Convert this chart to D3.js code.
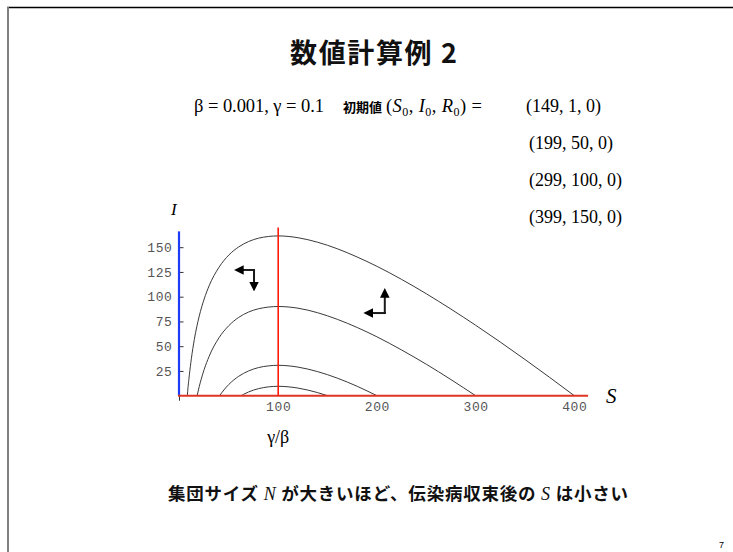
<!DOCTYPE html>
<html><head><meta charset="utf-8">
<script src="https://cdn.jsdelivr.net/npm/d3@7"></script>
<style>
html,body{margin:0;padding:0;background:#fff;}
svg{display:block;}
.jp{font-family:"Noto Sans CJK JP","Noto Sans",sans-serif;font-weight:bold;}
.serif{font-family:"Liberation Serif","DejaVu Serif",serif;}
.tick text{font-family:"Liberation Mono","DejaVu Sans Mono",monospace;fill:#555;}
</style></head>
<body>
<svg id="c" width="733" height="552"></svg>
<script>
// ---- data ----
const titleText = "数値計算例 2";
const initialValues = ["(149, 1, 0)", "(199, 50, 0)", "(299, 100, 0)", "(399, 150, 0)"];
const xTicks = [100, 200, 300, 400];
const yTicks = [25, 50, 75, 100, 125, 150];
const gammaOverBeta = 100;
// trajectories (S, I), one per population size
const curveN150 = [[62.6,0],[65,1.4],[70,3.8],[80,7.1],[90,8.9],[100,9.5],[110,9.0],[120,7.7],[130,5.7],[140,3.1],[150,0]];
const curveN200 = [[40.6,0],[45,5.8],[50,11.4],[60,19.6],[70,25.0],[80,28.4],[90,30.1],[100,30.7],[110,30.2],[120,28.9],[140,24.3],[160,17.7],[180,9.5],[200,0]];
const curveN300 = [[17.85,0],[20,9.2],[22,16.7],[25,26.5],[30,39.7],[40,58.5],[50,70.8],[60,79.1],[70,84.5],[80,87.8],[100,90.1],[120,88.4],[140,83.8],[160,77.1],[180,68.9],[200,59.5],[225,46.2],[250,31.8],[275,16.3],[300,0]];
const curveN400 = [[7.94,0],[8,0.8],[10,21.1],[12,37.3],[15,56.7],[20,80.4],[25,97.7],[30,111.0],[40,129.7],[50,142.1],[60,150.3],[70,155.7],[80,159.1],[100,161.4],[120,159.6],[140,155.0],[160,148.4],[180,140.1],[200,130.7],[225,117.5],[250,103.0],[275,87.5],[300,71.2],[325,54.2],[350,36.6],[375,18.5],[400,0]];
const curves = [curveN150, curveN200, curveN300, curveN400];
// direction arrows: [corner, horizontal tip, vertical tip] in (S, I)
const arrowA = [[75.5,127],[56,127],[75.5,106]];
const arrowB = [[208,83.5],[187,83.5],[208,108]];

const svg = d3.select("#c");

// slide frame
svg.append("line").attr("x1",7).attr("x2",733).attr("y1",7.5).attr("y2",7.5).attr("stroke","#000").attr("stroke-width",1.5);
svg.append("line").attr("x1",8).attr("x2",8).attr("y1",7).attr("y2",552).attr("stroke","#808080").attr("stroke-width",2);

// title
svg.append("text").attr("class","jp").attr("x",290).attr("y",63)
  .attr("font-size",27).attr("fill","#111").attr("textLength",167).attr("lengthAdjust","spacing").text(titleText);

// parameter line
svg.append("text").attr("class","serif").attr("x",194).attr("y",112).attr("font-size",18.5).attr("textLength",130).text("β = 0.001, γ = 0.1");
svg.append("text").attr("class","jp").attr("x",343).attr("y",112).attr("font-size",13).text("初期値");
const p = svg.append("text").attr("class","serif").attr("x",386).attr("y",112).attr("font-size",18.5)
  .attr("textLength",96).attr("lengthAdjust","spacing");
p.append("tspan").text("(");
[["S",", "],["I",", "],["R",") ="]].forEach(([v,after])=>{
  p.append("tspan").attr("font-style","italic").text(v);
  p.append("tspan").attr("font-size",12).attr("dy",4).text("0");
  p.append("tspan").attr("dy",-4).text(after);
});
const rowY = [112, 149, 186, 223];
const rowX = [526, 529, 529, 529];
initialValues.forEach((t,i)=>{
  svg.append("text").attr("class","serif").attr("x",rowX[i]).attr("y",rowY[i]).attr("font-size",18).text(t);
});

// scales
const x = d3.scaleLinear().domain([0,400]).range([179.5,574.3]);
const y = d3.scaleLinear().domain([0,150]).range([395.7,247.2]);

// y axis ticks + labels
const gy = svg.append("g").attr("transform",`translate(${x(0)},0)`)
  .call(d3.axisLeft(y).tickValues(yTicks).tickSize(-4).tickPadding(7));
gy.select(".domain").remove();
gy.selectAll(".tick line").attr("stroke","#333");
gy.selectAll(".tick text").attr("font-size",13).attr("letter-spacing",0.6);

// x axis labels
const gx = svg.append("g").attr("transform",`translate(0,${y(0)})`)
  .call(d3.axisBottom(x).tickValues(xTicks).tickSize(0).tickPadding(6));
gx.select(".domain").remove();
gx.selectAll(".tick text").attr("font-size",13).attr("letter-spacing",0.6);
// origin tick
svg.append("line").attr("x1",x(0)).attr("x2",x(0)).attr("y1",y(0)).attr("y2",y(0)+5).attr("stroke","#333");

// curves
const line = d3.line().x(d=>x(d[0])).y(d=>y(d[1])).curve(d3.curveMonotoneX);
svg.append("g").selectAll("path").data(curves).join("path")
  .attr("d",line).attr("fill","none").attr("stroke","#3a3a3a").attr("stroke-width",1);

// blue I axis
svg.append("line").attr("x1",x(0)-0.5).attr("x2",x(0)-0.5).attr("y1",y(0)).attr("y2",y(166)).attr("stroke","#1f3cf5").attr("stroke-width",2.2);
// red S axis
svg.append("line").attr("x1",x(-1.5)).attr("x2",x(414)).attr("y1",y(0)).attr("y2",y(0)).attr("stroke","#e03424").attr("stroke-width",2);
// red gamma/beta line
svg.append("line").attr("x1",x(gammaOverBeta)).attr("x2",x(gammaOverBeta)).attr("y1",y(0)).attr("y2",y(170)).attr("stroke","#ff1a0a").attr("stroke-width",1.6);

// arrows
const defs = svg.append("defs");
defs.append("marker").attr("id","ah").attr("viewBox","0 0 10 10").attr("refX",2).attr("refY",5)
  .attr("markerWidth",4.8).attr("markerHeight",4.8).attr("orient","auto")
  .append("path").attr("d","M0,0L10,5L0,10Z").attr("fill","#000");
[arrowA, arrowB].forEach(a=>{
  [a[1], a[2]].forEach(tip=>{
    const dx = x(tip[0]) - x(a[0][0]), dy = y(tip[1]) - y(a[0][1]);
    const L = Math.hypot(dx,dy), cut = 7;
    svg.append("line").attr("x1",x(a[0][0]) - (dx/L)*1).attr("y1",y(a[0][1]) - (dy/L)*1)
      .attr("x2",x(tip[0]) - dx/L*cut).attr("y2",y(tip[1]) - dy/L*cut)
      .attr("stroke","#1a1a1a").attr("stroke-width",2).attr("marker-end","url(#ah)");
  });
});

// axis labels
svg.append("text").attr("class","serif").attr("x",171).attr("y",215).attr("font-size",17).attr("font-style","italic").text("I");
svg.append("text").attr("class","serif").attr("x",606).attr("y",403).attr("font-size",21).attr("font-style","italic").text("S");
svg.append("text").attr("class","serif").attr("x",x(gammaOverBeta)).attr("y",443).attr("text-anchor","middle").attr("font-size",18).text("γ/β");

// conclusion
const c = svg.append("text").attr("class","jp").attr("x",168).attr("y",500).attr("font-size",17.5).attr("fill","#111")
  .attr("textLength",460).attr("lengthAdjust","spacing");
c.append("tspan").text("集団サイズ ");
c.append("tspan").attr("class","serif").attr("font-style","italic").attr("font-weight","normal").attr("font-size",18).text("N");
c.append("tspan").text(" が大きいほど、伝染病収束後の ");
c.append("tspan").attr("class","serif").attr("font-style","italic").attr("font-weight","normal").attr("font-size",18).text("S");
c.append("tspan").text(" は小さい");

// page number
svg.append("text").attr("x",719).attr("y",548).attr("font-family","Liberation Sans, sans-serif").attr("font-size",9).text("7");
</script>
</body></html>
